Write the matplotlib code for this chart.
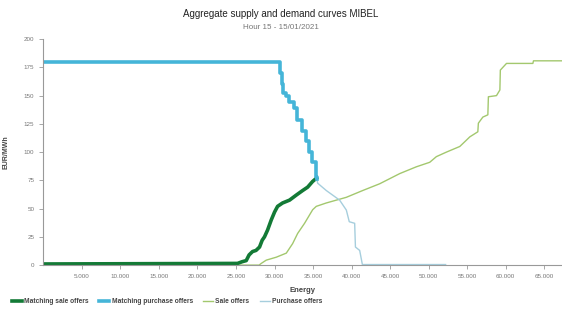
import matplotlib.pyplot as plt
import matplotlib.ticker as mticker

plt.rcParams['font.family'] = ['Liberation Sans', 'DejaVu Sans']

# matched sale offers (dark green)
match_sale_e = [0, 25200, 25800, 26330, 26700, 27150, 27600, 28060, 28400, 28700, 29100,
                29580, 30010, 30400, 31050, 31950, 32830, 33650, 34300, 34940, 35450]
match_sale_p = [1, 1.5, 3, 4, 9, 12, 13, 16, 22, 25, 31, 40, 47, 52, 55, 57.5, 62,
                66, 69, 74, 77]

# matched purchase offers (blue)
match_buy_e = [0, 30650, 30750, 31000, 31100, 31500, 31900, 32500, 32900, 33600,
               34100, 34500, 34900, 35400, 35500]
match_buy_p = [180, 180, 170, 160, 152, 150, 144, 139, 128, 119, 110, 100, 91, 78, 76]

# all sale offers (light green)
sale_e = [0, 28000, 28280, 28930, 30230, 31530, 32350, 33000, 33900, 34950, 35420,
          36720, 38020, 39320, 41440, 43650, 46250, 48400, 50140, 51000, 52300,
          54040, 54900, 55340, 56380, 56450, 57030, 57680, 57750, 58800, 59240,
          59300, 60100, 63520, 63600, 67300]
sale_p = [0, 0, 1.5, 4.4, 7, 10.6, 19, 28, 37, 49, 52, 55, 57.5, 60, 66, 72, 81,
          87, 91, 96, 100, 105, 110.6, 113.5, 118, 125.6, 131, 133, 149, 150, 155,
          172.6, 178.5, 178.5, 180.8, 180.8]

# all purchase offers (light blue)
buy_e = [35500, 35600, 36720, 38450, 39320, 39700, 40400, 40500, 41050, 41400, 52200]
buy_p = [76, 72.5, 66, 57.5, 48.7, 38.4, 37, 16, 13, 0.5, 0.5]

fig = plt.figure(figsize=(5.62, 3.13), dpi=100)
ax = fig.add_axes([0.077, 0.153, 0.923, 0.722])

ax.plot(sale_e, sale_p, color='#a3c86e', lw=1.0, label='Sale offers')
ax.plot(buy_e, buy_p, color='#a6cedd', lw=1.0, label='Purchase offers')
ax.plot(match_sale_e, match_sale_p, color='#137a36', lw=2.6,
        label='Matching sale offers')
ax.plot(match_buy_e, match_buy_p, color='#45b5d8', lw=2.6, drawstyle='steps-post',
        label='Matching purchase offers')

ax.set_xlim(0, 67300)
ax.set_ylim(0, 200)
ax.set_yticks(range(0, 201, 25))
ax.set_xticks(range(5000, 65001, 5000))
ax.xaxis.set_major_formatter(mticker.FuncFormatter(lambda v, p: f'{int(v):,}'.replace(',', '.')))

for s in ['top', 'right']:
    ax.spines[s].set_visible(False)
for s in ['left', 'bottom']:
    ax.spines[s].set_color('#999999')
    ax.spines[s].set_linewidth(0.8)
ax.tick_params(axis='both', labelsize=4.5, colors='#999999', labelcolor='#777777',
               length=3, width=0.6)

ax.set_xlabel('Energy', fontsize=5.5, fontweight='bold', color='#444444', labelpad=6)
ax.set_ylabel('EUR/MWh', fontsize=5, fontweight='bold', color='#444444', labelpad=10)

fig.text(0.5, 0.955, 'Aggregate supply and demand curves MIBEL', ha='center', va='center',
         fontsize=7, color='#222222')
fig.text(0.5, 0.913, 'Hour 15 - 15/01/2021', ha='center', va='center',
         fontsize=5.8, color='#777777')

h, l = ax.get_legend_handles_labels()
order = [2, 3, 0, 1]
fig.legend([h[i] for i in order], [l[i] for i in order], loc='center left',
           bbox_to_anchor=(0.01, 0.037), ncol=4, frameon=False,
           handlelength=1.5, columnspacing=1.5, handletextpad=0.4,
           labelcolor='#444444', prop={'weight': 'bold', 'size': 4.8})

fig.savefig('out.png', dpi=100)
